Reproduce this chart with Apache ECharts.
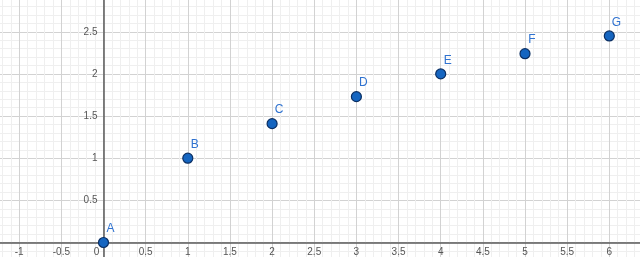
<!DOCTYPE html>
<html>
<head>
<meta charset="utf-8">
<script src="https://cdn.jsdelivr.net/npm/echarts@6/dist/echarts.min.js"></script>
<style>html,body{margin:0;padding:0;background:#fff}#c{width:640px;height:257px}</style>
</head>
<body>
<div id="c"></div>
<script>
const pointNames = ['A', 'B', 'C', 'D', 'E', 'F', 'G'];
const xValues = [0, 1, 2, 3, 4, 5, 6];
const yValues = [0, 1, 1.41, 1.73, 2, 2.24, 2.45];

const chart = echarts.init(document.getElementById('c'), null, {renderer: 'canvas'});
const minorColor = '#efefef';
const majorColor = '#d2d2d2';
const labelColor = '#555';
const axisColor = '#5a5a5a';
const font = 'Arial, Liberation Sans, sans-serif';

function fmt(v) {
  return String(Math.round(v * 10) / 10);
}

const X_MIN = -1.5, X_MAX = 6.5, Y_MIN = -0.5, Y_MAX = 3;

const hiddenAxis = {show: false};

const option = {
  animation: false,
  grid: [
    {left: -22.95, right: -11.45, top: -10.4, bottom: -27.65, outerBoundsMode: 'none', containLabel: false},
    {left: -22.95, right: -11.45, top: 0, bottom: 14.5, outerBoundsMode: 'none', containLabel: false},
    {left: 103.5, right: 0, top: -10.4, bottom: -27.65, outerBoundsMode: 'none', containLabel: false}
  ],
  xAxis: [
    {gridIndex: 0, type: 'value', min: X_MIN, max: X_MAX, interval: 0.1,
     axisLine: {show: false}, axisTick: {show: false}, axisLabel: {show: false},
     splitLine: {show: true, lineStyle: {color: minorColor, width: 1}}},
    {gridIndex: 0, type: 'value', min: X_MIN, max: X_MAX, interval: 0.5,
     axisLine: {show: false}, axisTick: {show: false}, axisLabel: {show: false},
     splitLine: {show: true, lineStyle: {color: majorColor, width: 1}}},
    {gridIndex: 1, type: 'value', min: X_MIN, max: X_MAX, interval: 0.5, position: 'bottom',
     axisLine: {show: true, onZero: false, lineStyle: {color: axisColor, width: 1.5}},
     axisTick: {show: false},
     axisLabel: {show: true, color: labelColor, fontSize: 10, fontFamily: font, margin: 5,
       formatter: function (v) { return Math.abs(v) < 1e-9 ? '{z|0}' : fmt(v); },
       rich: {z: {padding: [0, 14, 0, 0], fontSize: 10, color: labelColor, fontFamily: font}}},
     splitLine: {show: false}},
    {gridIndex: 2, type: 'value', min: 0, max: 1, show: false}
  ],
  yAxis: [
    {gridIndex: 0, type: 'value', min: Y_MIN, max: Y_MAX, interval: 0.1,
     axisLine: {show: false}, axisTick: {show: false}, axisLabel: {show: false},
     splitLine: {show: true, lineStyle: {color: minorColor, width: 1}}},
    {gridIndex: 0, type: 'value', min: Y_MIN, max: Y_MAX, interval: 0.5,
     axisLine: {show: false}, axisTick: {show: false}, axisLabel: {show: false},
     splitLine: {show: true, lineStyle: {color: majorColor, width: 1}}},
    {gridIndex: 1, type: 'value', min: 0, max: 1, show: false},
    {gridIndex: 2, type: 'value', min: Y_MIN, max: Y_MAX, interval: 0.5, position: 'left',
     axisLine: {show: true, onZero: false, lineStyle: {color: axisColor, width: 1.5}},
     axisTick: {show: false},
     axisLabel: {show: true, color: labelColor, fontSize: 10, fontFamily: font, margin: 6,
       formatter: function (v) { return Math.abs(v) < 1e-9 ? '' : fmt(v); }},
     splitLine: {show: false}}
  ],
  series: [{
    type: 'scatter',
    xAxisIndex: 1, yAxisIndex: 1,
    symbolSize: 10,
    itemStyle: {color: '#1565c0', borderColor: '#0b2f63', borderWidth: 1.2, opacity: 1},
    label: {show: true, position: 'top', distance: 2, offset: [7, 0], color: '#2f72d0',
      fontSize: 12, fontFamily: font,
      formatter: function (p) { return p.data[2]; }},
    data: xValues.map(function (x, i) { return [x, yValues[i], pointNames[i]]; }),
    z: 10
  }]
};
chart.setOption(option);
</script>
</body>
</html>
